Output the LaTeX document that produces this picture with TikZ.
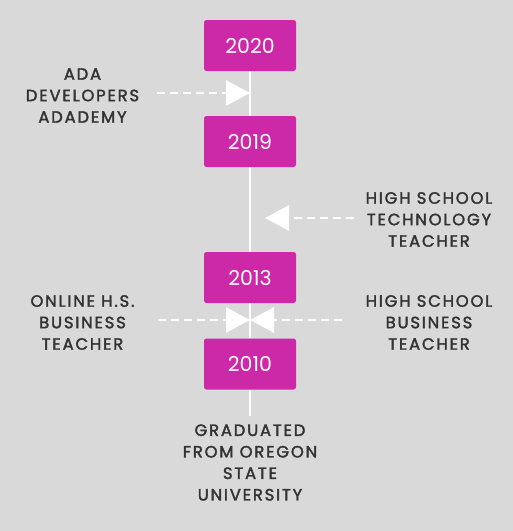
\documentclass[tikz,border=0pt]{standalone}
\usepackage{fontspec}
\setmainfont{Poppins}
\newfontfamily\milestonefont{Poppins}[LetterSpace=11, FakeBold=2]
\usetikzlibrary{arrows.meta}
\definecolor{bggray}{HTML}{D9D9D9}
\definecolor{yearpink}{HTML}{CC29A8}
\definecolor{labelgray}{HTML}{333333}
\tikzset{
  yearbox/.style={fill=yearpink, rounded corners=2.5pt, minimum width=92pt, minimum height=51pt,
    text=white, font=\fontsize{20.5}{20.5}\selectfont},
  milestone/.style={text=labelgray, align=center, font=\milestonefont\fontsize{16.4}{21.5}\selectfont},
  spine/.style={white, line width=2.8pt},
  pointer/.style={white, line width=2.6pt, dash pattern=on 8pt off 5pt,
    -{Triangle[length=24pt, width=25pt]}}
}
\begin{document}
\begin{tikzpicture}[x=1pt, y=-1pt]
  \fill[bggray] (0,0) rectangle (513,531);
  \useasboundingbox (0,0) rectangle (513,531);
  % years
  \node[yearbox] (y2020) at (250,45.5) {2020};
  \node[yearbox] (y2019) at (250,141.5) {2019};
  \node[yearbox] (y2013) at (250,277.5) {2013};
  \node[yearbox] (y2010) at (250,364) {2010};
  \coordinate (tail) at (250,416);
  \draw[spine] (y2020) -- (y2019) (y2019) -- (y2013) (y2013) -- (y2010) (y2010) -- (tail);
  % labels
  \node[milestone] (ada) at (82.5,95.5) {ADA\\DEVELOPERS\\ADADEMY};
  \node[milestone] (tech) at (429,219.5) {HIGH SCHOOL\\TECHNOLOGY\\TEACHER};
  \node[milestone] (online) at (82.5,322.5) {ONLINE H.S.\\BUSINESS\\TEACHER};
  \node[milestone] (hsbiz) at (429,322.5) {HIGH SCHOOL\\BUSINESS\\TEACHER};
  \node[milestone] (grad) at (250,462.5) {GRADUATED\\FROM OREGON\\STATE\\UNIVERSITY};
  % pointers
  \coordinate (ada-s) at (157,93);   \coordinate (ada-t) at (250,93);
  \coordinate (tech-s) at (354,218); \coordinate (tech-t) at (265,218);
  \coordinate (online-s) at (158,320); \coordinate (online-t) at (250,320);
  \coordinate (hsbiz-s) at (342,320);  \coordinate (hsbiz-t) at (250,320);
  \draw[pointer] (ada-s) -- (ada-t);
  \draw[pointer] (tech-s) -- (tech-t);
  \draw[pointer] (online-s) -- (online-t);
  \draw[pointer] (hsbiz-s) -- (hsbiz-t);
\end{tikzpicture}
\end{document}
